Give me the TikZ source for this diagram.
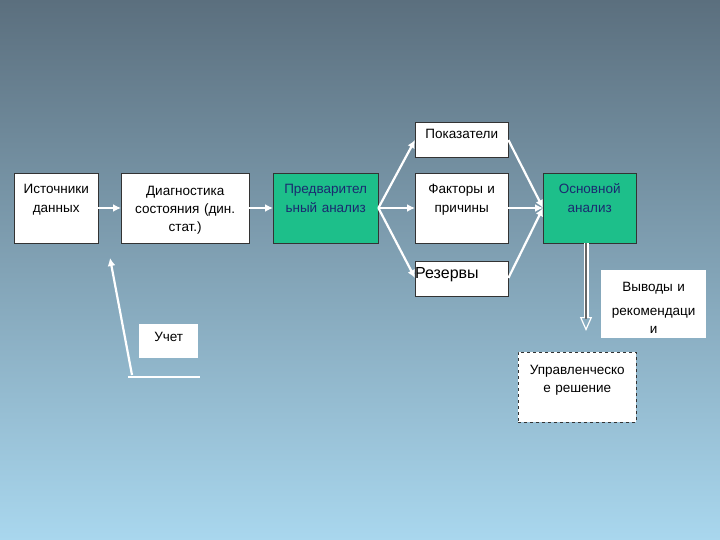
\documentclass[tikz,border=0pt]{standalone}
\usepackage{fontspec}
\setmainfont{Liberation Sans}
\usetikzlibrary{arrows.meta}
\definecolor{bgtop}{HTML}{5B6F7E}
\definecolor{bgbot}{HTML}{A9D7EE}
\definecolor{grn}{HTML}{1DBF8A}
\definecolor{dblue}{HTML}{1A2A70}
\begin{document}
\begin{tikzpicture}[x=1pt,y=-1pt,
 box/.style={draw=black!80,fill=white,text width=#1,minimum width=#1,inner sep=0pt,align=center,anchor=north west,font=\fontsize{13.5}{18}\selectfont},
 wa/.style={draw=white,line width=2.2pt,-{Latex[length=8pt,width=8pt]}}]
\shade[top color=bgtop,bottom color=bgbot,shading angle=0] (0,0) rectangle (720,540);
\useasboundingbox (0,0) rectangle (720,540);
\node[box=84,minimum height=70] (ist) at (14,173) {\rule{0pt}{13pt}Источники\\данных\\\strut};
\node[box=128,minimum height=70] (diag) at (121,173) {\rule{0pt}{13pt}Диагностика\\состояния (дин.\\стат.)};
\node[box=105,minimum height=70,fill=grn,text=dblue] (pred) at (273,173) {\rule{0pt}{13pt}Предварител\\ьный анализ\\\strut};
\node[box=93,minimum height=35] (pok) at (415,122) {\rule{0pt}{13pt}Показатели\\[-8pt]\strut};
\node[box=93,minimum height=70] (fak) at (415,173) {\rule{0pt}{13pt}Факторы и\\причины\\\strut};
\node[box=93,minimum height=35,font=\fontsize{16}{18}\selectfont,align=left] (rez) at (415,261) {\rule{0pt}{15pt}Резервы\\[-8pt]\strut};
\node[box=93,minimum height=70,fill=grn,text=dblue] (osn) at (543,173) {\rule{0pt}{13pt}Основной\\анализ\\\strut};
\node[box=105,minimum height=68,draw=none,font=\fontsize{13.5}{24}\selectfont] (vyv) at (601,270) {\rule{0pt}{16pt}Выводы и\\рекомендаци\\[-6pt]и};
\node[box=59,minimum height=34,draw=none] (uch) at (139,324) {\rule{0pt}{15pt}Учет\\[-8pt]\strut};
\node[box=118,minimum height=70,dashed] (upr) at (518,352) {\rule{0pt}{16pt}Управленческо\\е решение\\\strut};
\coordinate (l1) at (128,377); \coordinate (l2) at (200,377);
\draw[white,line width=1.5pt] (l1) -- (l2);
\coordinate (us) at (132,375); \coordinate (ue) at (110,258);
\draw[wa] (us) -- (ue);
\draw[wa] (ist.east|-0,208) -- (diag.west|-0,208);
\draw[wa] (diag.east|-0,208) -- (pred.west|-0,208);
\draw[wa] (pred.east|-0,208) -- (fak.west|-0,208);
\draw[wa] (pred.east|-0,208) -- (pok.west|-0,140);
\draw[wa] (pred.east|-0,208) -- (rez.west|-0,278);
\draw[wa] (pok.east|-0,140) -- (osn.west|-0,208);
\draw[wa] (fak.east|-0,208) -- (osn.west|-0,208);
\draw[wa] (rez.east|-0,278) -- (osn.west|-0,208);
\draw[draw=white,line width=5pt,-{Triangle[open,length=14pt,width=12pt,line width=1.2pt]}] (586,243) -- (586,331);
\draw[draw=black!60,line width=2.5pt] (586,243) -- (586,319);
\end{tikzpicture}
\end{document}
